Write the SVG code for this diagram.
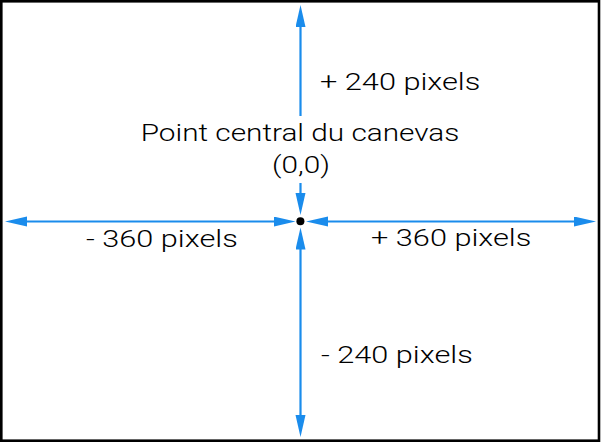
<svg xmlns="http://www.w3.org/2000/svg" width="601" height="442" viewBox="0 0 601 442">
<style>
.lbl{font-family:Roboto,"Liberation Sans",sans-serif;font-size:24px;font-weight:300;fill:#000}
.ax{fill:none;stroke:#1a8cec;stroke-width:2.2;marker-start:url(#ah);marker-end:url(#ah)}
</style>
<defs>
<marker id="ah" markerUnits="userSpaceOnUse" markerWidth="24" markerHeight="12" refX="1" refY="5" orient="auto-start-reverse" viewBox="0 0 24 12">
<path d="M0,0 L22,5 L0,10 z" fill="#1a8cec"/>
</marker>
</defs>
<rect x="1.3" y="1.3" width="597.7" height="439.4" fill="#fff" stroke="#000" stroke-width="2.6"/>
<g id="connectors">
<path class="ax" d="M26,221.5 H274.5"/>
<path class="ax" d="M327,221.5 H575"/>
<path class="ax" d="M300.5,26 V116 M300.5,183 V194"/>
<path class="ax" d="M300.5,248.5 V416"/>
</g>
<g id="center">
<circle cx="300.4" cy="221.3" r="4" fill="#000"/>
<text class="lbl" text-anchor="middle" transform="translate(300,141) scale(1.24,1)">Point central du canevas</text>
<text class="lbl" text-anchor="middle" transform="translate(301,173) scale(1.24,1)">(0,0)</text>
</g>
<g id="labels">
<text class="lbl" transform="translate(320,90) scale(1.28,1)">+ 240 pixels</text>
<text class="lbl" transform="translate(86,247) scale(1.28,1)">- 360 pixels</text>
<text class="lbl" transform="translate(371,246) scale(1.28,1)">+ 360 pixels</text>
<text class="lbl" transform="translate(321,363) scale(1.28,1)">- 240 pixels</text>
</g>
</svg>
